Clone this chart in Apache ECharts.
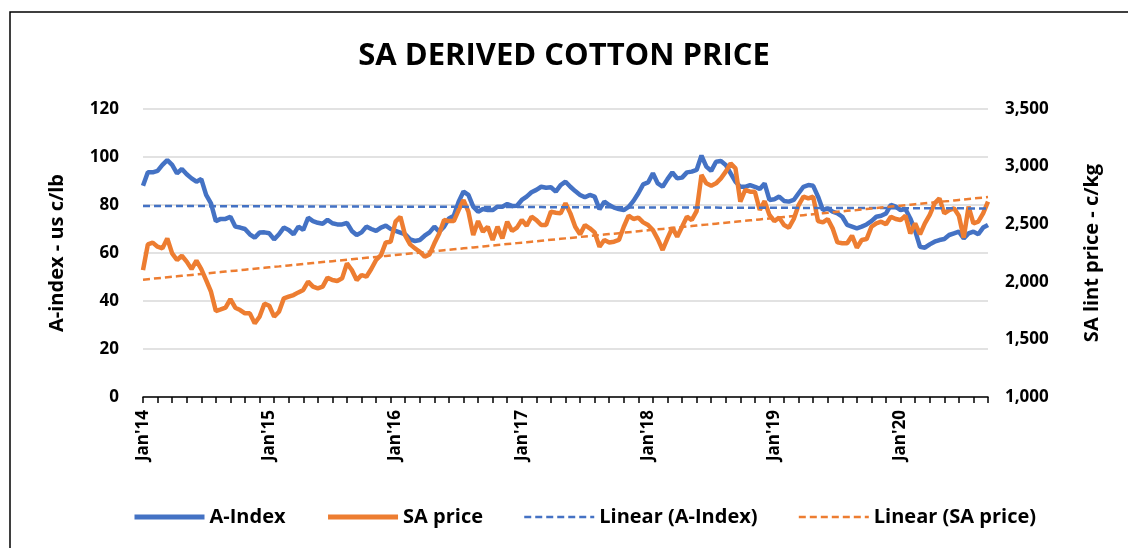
<!DOCTYPE html>
<html>
<head>
<meta charset="utf-8">
<title>SA derived cotton price</title>
<script src="https://cdn.jsdelivr.net/npm/echarts@6/dist/echarts.min.js"></script>
<style>
  html, body { margin: 0; padding: 0; background: #fff; }
  #chart { width: 1128px; height: 548px; }
</style>
</head>
<body>
<div id="chart"></div>
<script>
// fortnightly points, Jan 2014 to Sep 2020
var yearLabels = ["Jan'14", "Jan'15", "Jan'16", "Jan'17", "Jan'18", "Jan'19", "Jan'20"];

var aIndex = [
  88, 93.6, 93.6, 94.2, 96.7, 98.7, 96.7, 93.2, 95, 92.8,
  91.1, 89.7, 90.8, 84.2, 80.7, 73.3, 74.2, 74.2, 75.1, 71,
  70.6, 70, 67.8, 66.4, 68.5, 68.6, 68.2, 65.7, 67.8, 70.6,
  69.6, 67.8, 71, 69.6, 74.7, 73.3, 72.6, 72.2, 73.8, 72.4,
  71.9, 71.9, 72.5, 69.2, 67.5, 68.6, 71, 70, 69.2, 70.6,
  71.4, 70, 69.2, 68.5, 67.8, 65.7, 65, 65.4, 67.2, 68.6,
  71, 68.9, 71, 74.4, 75.5, 81.4, 85.6, 84.2, 79.3, 77.2,
  78.3, 77.9, 77.9, 79.3, 79.3, 80.4, 79.6, 79.7, 82.1, 83.5,
  85.3, 86.3, 87.6, 87.2, 87.4, 85.6, 88.3, 89.7, 87.6, 85.8,
  84.2, 83.2, 84.2, 83.5, 78.2, 81.4, 80, 78.9, 78.3, 77.9,
  79.2, 81.7, 84.9, 88.6, 89.4, 93.2, 89, 87.6, 90.8, 93.6,
  91.1, 91.4, 93.6, 93.9, 94.6, 100.6, 96, 94.2, 98, 98.3,
  96.7, 93.2, 89.7, 87.6, 87.6, 88.3, 87.6, 86.7, 89, 82.1,
  82.4, 83.5, 81.7, 81.4, 82.1, 84.9, 87.6, 88.3, 88, 83.5,
  77.9, 78.6, 77.2, 76.5, 75.1, 71.7, 71, 70.3, 71, 71.9,
  73.3, 75.1, 75.5, 76.5, 80, 79.3, 77.9, 78.3, 74.4, 69.2,
  62.6, 62.2, 63.6, 64.7, 65.4, 65.8, 67.5, 68.2, 68.9, 66.1,
  68.2, 68.9, 67.8, 70.6, 71.7
];

var saPrice = [
  2102, 2325, 2340, 2305, 2290, 2377, 2247, 2189, 2226, 2175,
  2110, 2183, 2110, 2015, 1914, 1746, 1760, 1775, 1850, 1775,
  1755, 1726, 1726, 1639, 1697, 1810, 1792, 1697, 1740, 1856,
  1871, 1885, 1908, 1929, 2001, 1958, 1943, 1958, 2036, 2015,
  2007, 2030, 2160, 2102, 2015, 2059, 2044, 2111, 2189, 2232,
  2342, 2348, 2522, 2565, 2400, 2325, 2290, 2261, 2218, 2238,
  2334, 2420, 2536, 2527, 2527, 2623, 2710, 2609, 2406, 2527,
  2435, 2478, 2363, 2478, 2377, 2522, 2441, 2470, 2536, 2487,
  2565, 2536, 2493, 2493, 2609, 2600, 2594, 2681, 2594, 2478,
  2412, 2493, 2464, 2429, 2305, 2363, 2342, 2348, 2363, 2478,
  2574, 2545, 2557, 2516, 2493, 2449, 2371, 2276, 2377, 2470,
  2392, 2478, 2565, 2536, 2614, 2927, 2855, 2834, 2855, 2898,
  2956, 3028, 2985, 2695, 2797, 2782, 2782, 2623, 2700, 2580,
  2527, 2557, 2493, 2470, 2545, 2666, 2739, 2724, 2739, 2527,
  2516, 2545, 2464, 2342, 2334, 2334, 2400, 2296, 2363, 2371,
  2478, 2507, 2522, 2499, 2565, 2545, 2536, 2574, 2420, 2507,
  2412, 2507, 2580, 2681, 2724, 2594, 2623, 2638, 2574, 2383,
  2652, 2507, 2522, 2594, 2695
];

var blue = '#4472C4';
var orange = '#ED7D31';
var font = 'Open Sans';

// category labels: one per fortnight from 3 Jan 2014
var categories = aIndex.map(function(v, i) {
    var d = new Date(2014, 0, 3 + 14 * i);
    return d.getFullYear() + '-' + (d.getMonth() + 1) + '-' + d.getDate();
});

// least squares trend, like Excel's linear trendline
function linear(arr) {
    var n = arr.length, sx = 0, sy = 0, sxy = 0, sxx = 0;
    arr.forEach(function(y, x) { sx += x; sy += y; sxy += x * y; sxx += x * x; });
    var b = (n * sxy - sx * sy) / (n * sxx - sx * sx);
    var a = (sy - b * sx) / n;
    return arr.map(function(y, x) { return +(a + b * x).toFixed(2); });
}

var chart = echarts.init(document.getElementById('chart'), null, { renderer: 'canvas' });

chart.setOption({
    animation: false,
    textStyle: { fontFamily: font },
    title: {
        text: 'SA DERIVED COTTON PRICE',
        left: 'center',
        top: 36,
        textStyle: { fontSize: 31, fontWeight: 'bold', color: '#000', fontFamily: font }
    },
    graphic: [{
        type: 'rect',
        shape: { x: 10, y: 12, width: 1200, height: 600 },
        style: { fill: 'none', stroke: '#000', lineWidth: 1.5 },
        silent: true
    }],
    legend: {
        bottom: 16,
        left: 127,
        itemWidth: 70,
        itemHeight: 14,
        itemGap: 40,
        itemStyle: { opacity: 0 },
        textStyle: { fontSize: 20, fontWeight: 'bold', color: '#000', fontFamily: font },
        data: [
            { name: 'A-Index', lineStyle: { width: 5 } },
            { name: 'SA price', lineStyle: { width: 5 } },
            { name: 'Linear (A-Index)', lineStyle: { width: 2.5 } },
            { name: 'Linear (SA price)', lineStyle: { width: 2.5 } }
        ]
    },
    grid: { left: 143, right: 140, top: 109, bottom: 151 },
    xAxis: {
        type: 'category',
        data: categories,
        boundaryGap: false,
        axisLine: { lineStyle: { color: '#000', width: 1.5 } },
        axisTick: { interval: 2, length: 6, lineStyle: { color: '#000', width: 1.5 } },
        axisLabel: {
            interval: 25,
            rotate: 90,
            margin: 13,
            fontSize: 17,
            fontWeight: 'bold',
            color: '#000',
            formatter: function(v, i) { return yearLabels[Math.round(i / 26)]; }
        },
        splitLine: { show: false }
    },
    yAxis: [{
        type: 'value',
        min: 0,
        max: 120,
        interval: 20,
        name: 'A-index - us c/lb',
        nameLocation: 'middle',
        nameRotate: 90,
        nameGap: 76,
        nameTextStyle: { fontSize: 20, fontWeight: 'bold', color: '#000' },
        axisLine: { show: false },
        axisTick: { show: false },
        axisLabel: { margin: 24, fontSize: 17, fontWeight: 'bold', color: '#000' },
        splitLine: { lineStyle: { color: '#d9d9d9', width: 1.5 } }
    }, {
        type: 'value',
        min: 1000,
        max: 3500,
        interval: 500,
        name: 'SA lint price - c/kg',
        nameLocation: 'middle',
        nameRotate: 90,
        nameGap: 94,
        nameTextStyle: { fontSize: 20, fontWeight: 'bold', color: '#000' },
        axisLine: { show: false },
        axisTick: { show: false },
        axisLabel: {
            margin: 17,
            fontSize: 17,
            fontWeight: 'bold',
            color: '#000',
            formatter: function(v) { return v.toLocaleString('en-US'); }
        },
        splitLine: { show: false }
    }],
    series: [{
        name: 'A-Index',
        type: 'line',
        data: aIndex,
        symbol: 'none',
        lineStyle: { color: blue, width: 4.5 },
        itemStyle: { color: blue },
        z: 3
    }, {
        name: 'SA price',
        type: 'line',
        yAxisIndex: 1,
        data: saPrice,
        symbol: 'none',
        lineStyle: { color: orange, width: 4.5 },
        itemStyle: { color: orange },
        z: 4
    }, {
        name: 'Linear (A-Index)',
        type: 'line',
        data: linear(aIndex),
        symbol: 'none',
        lineStyle: { color: blue, width: 2.5, type: [7, 4] },
        itemStyle: { color: blue },
        z: 5
    }, {
        name: 'Linear (SA price)',
        type: 'line',
        yAxisIndex: 1,
        data: linear(saPrice),
        symbol: 'none',
        lineStyle: { color: orange, width: 2.5, type: [7, 4] },
        itemStyle: { color: orange },
        z: 5
    }]
});

window.addEventListener('resize', function() { chart.resize(); });
</script>
</body>
</html>
